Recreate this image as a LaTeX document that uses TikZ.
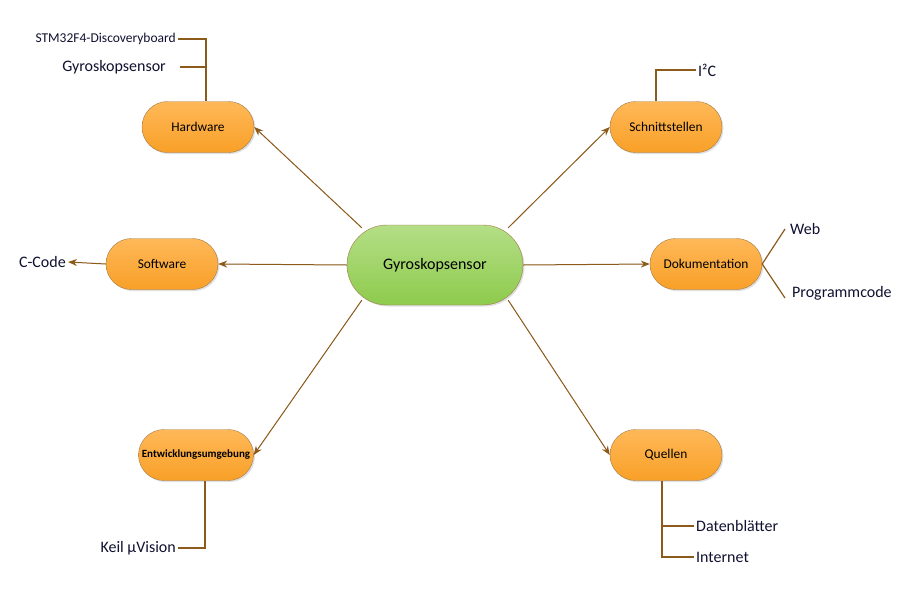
\documentclass[tikz,border=0pt]{standalone}
\usepackage{fontspec}
\setmainfont{Carlito}
\usepackage{xcolor}
\usepackage{tikz}
\usetikzlibrary{arrows.meta,shadows}
\definecolor{mapbrown}{RGB}{140,90,27}
\definecolor{orangetop}{RGB}{255,184,88}
\definecolor{orangebot}{RGB}{248,160,40}
\definecolor{greentop}{RGB}{180,222,134}
\definecolor{greenbot}{RGB}{142,203,77}
\definecolor{leaftext}{RGB}{16,16,48}

\begin{document}
\begin{tikzpicture}[x=1pt, y=-1pt,
    box/.style={rectangle, draw=mapbrown!80, top color=orangetop, bottom color=orangebot, rounded corners=25.5pt, minimum width=112pt, minimum height=51pt, font=\fontsize{13.4}{15}\selectfont, drop shadow={shadow xshift=1.5pt, shadow yshift=-1.5pt, opacity=0.25}},
    hub/.style={rectangle, draw=mapbrown!80, top color=greentop, bottom color=greenbot, rounded corners=40pt, minimum width=176pt, minimum height=80pt, font=\fontsize{16}{18}\selectfont, drop shadow={shadow xshift=1.5pt, shadow yshift=-1.5pt, opacity=0.25}},
    leaf/.style={text=leaftext, font=\fontsize{16}{18}\selectfont, inner sep=2pt},
    arrow/.style={-{Stealth[length=9pt, width=7pt]}, draw=mapbrown, fill=mapbrown, line width=1pt},
    branch/.style={draw=mapbrown, line width=1.2pt}
]
    \useasboundingbox (0,0) rectangle (913,595);

    \node[hub] (ctr) at (435,265) {Gyroskopsensor};
    \node[box] (hw) at (198,127) {Hardware};
    \node[box] (sw) at (162,264) {Software};
    \node[box, font=\bfseries\fontsize{11}{13}\selectfont] (ent) at (196,455) {Entwicklungsumgebung};
    \node[box] (sch) at (666,127) {Schnittstellen};
    \node[box] (dok) at (706,264) {Dokumentation};
    \node[box] (qu) at (666,455) {Quellen};

    \draw[arrow] ([shift={(15,3)}]ctr.north west) -- (hw.east);
    \draw[arrow] (ctr.west) -- (sw.east);
    \draw[arrow] ([shift={(15,-5)}]ctr.south west) -- (ent.east);
    \draw[arrow] ([shift={(-15,3)}]ctr.north east) -- (sch.west);
    \draw[arrow] (ctr.east) -- (dok.west);
    \draw[arrow] ([shift={(-15,-5)}]ctr.south east) -- (qu.west);

    \node[leaf, anchor=east, font=\fontsize{13.5}{15}\selectfont] (stm) at (178,39) {STM32F4-Discoveryboard};
    \node[leaf, anchor=east] (gyr) at (168,67) {Gyroskopsensor};
    \node[leaf, anchor=east] (ccode) at (68,262) {C-Code};
    \node[leaf, anchor=east] (keil) at (178,548) {Keil µVision};
    \node[leaf, anchor=west] (i2c) at (696,70) {I²C};
    \node[leaf, anchor=west] (web) at (788,229) {Web};
    \node[leaf, anchor=west] (prog) at (790,293) {Programmcode};
    \node[leaf, anchor=west] (daten) at (694,526) {Datenblätter};
    \node[leaf, anchor=west] (inet) at (694,557) {Internet};

    \coordinate (hwjoin) at ([xshift=8pt]hw.north);
    \draw[branch] (stm.east) -| (hwjoin);
    \draw[branch] ([xshift=12pt]gyr.east) -- (gyr.east -| hwjoin);
    \draw[arrow] (sw.west) -- (ccode.east);
    \draw[branch] (keil.east) -| ([xshift=9pt]ent.south);
    \draw[branch] (i2c.west) -| ([xshift=-10pt]sch.north);
    \draw[branch] (dok.east) -- ([xshift=-3pt]web.west);
    \draw[branch] (dok.east) -- ([shift={(-5,5)}]prog.west);
    \draw[branch] (daten.west) -| ([xshift=-4pt]qu.south);
    \draw[branch] (inet.west) -| ([xshift=-4pt]qu.south);
\end{tikzpicture}
\end{document}
